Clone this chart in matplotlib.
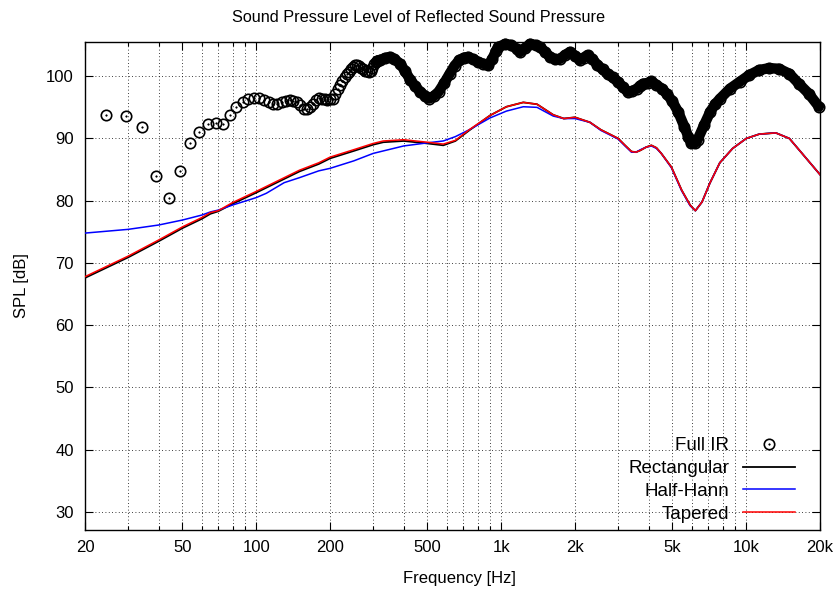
import numpy as np
import matplotlib
matplotlib.use("Agg")
import matplotlib.pyplot as plt
from matplotlib.ticker import FixedLocator, NullFormatter

# ================= DATA =================
# Full IR, low-frequency FFT bins (individual circles)
ir_freq_sparse = [24.4, 29.3, 34.2, 39.1, 43.9, 48.8, 53.7, 58.6, 63.5, 68.4,
                  73.2, 78.1, 83.0, 87.9, 92.8, 97.7, 102.5, 107.4, 112.3, 117.2,
                  122.1, 127.0, 131.8, 136.7, 141.6, 146.5, 151.4, 156.3, 161.1, 166.0,
                  170.9, 175.8, 180.7, 185.5, 190.4, 195.3, 200.2, 205.1, 210.0, 214.8,
                  219.7, 224.6, 229.5, 234.4, 239.3, 244.1, 249.0, 253.9, 258.8, 263.7,
                  268.6, 273.4, 278.3, 283.2, 288.1, 293.0, 297.9, 302.7, 307.6, 312.5]
ir_spl_sparse = [93.8, 93.6, 91.8, 84.0, 80.5, 84.7, 89.2, 91.1, 92.3, 92.5,
                 92.3, 93.7, 95.0, 95.8, 96.3, 96.5, 96.5, 96.2, 95.9, 95.6,
                 95.5, 95.9, 96.1, 96.2, 96.0, 95.9, 95.3, 94.8, 94.8, 95.1,
                 95.5, 96.2, 96.5, 96.4, 96.3, 96.2, 96.3, 96.4, 97.2, 97.9,
                 98.6, 99.3, 99.9, 100.3, 100.7, 101.1, 101.5, 101.8, 101.8, 101.6,
                 101.3, 101.1, 100.9, 100.8, 100.7, 100.8, 101.4, 102.0, 102.3, 102.5]

# Full IR, dense part (circles merge into a band)
ir_freq_dense = [312.5, 320, 335, 350, 365, 387, 405, 426, 445, 467, 490, 508, 530, 555,
                 585, 616, 645, 675, 705, 733, 770, 804, 845, 887, 920, 950, 974,
                 1040, 1095, 1158, 1195, 1250, 1310, 1380, 1440, 1510, 1582, 1660,
                 1740, 1820, 1908, 2000, 2090, 2170, 2250, 2350, 2470, 2590, 2715,
                 2850, 2990, 3130, 3280, 3420, 3580, 3690, 3790, 3960, 4100, 4300,
                 4530, 4750, 4970, 5270, 5590, 5800, 5950, 6150, 6330, 6720, 7130,
                 7460, 7820, 8580, 9400, 10300, 11300, 12400, 13600, 15000, 16400,
                 18000, 19800]
ir_spl_dense = [102.5, 102.6, 102.9, 103.1, 102.8, 102.0, 100.8, 99.4, 98.4, 97.5, 96.8,
                96.4, 96.8, 97.5, 98.9, 100.4, 101.7, 102.6, 103.0, 103.1, 102.7,
                102.3, 102.0, 101.8, 102.8, 104.0, 104.7, 105.2, 105.0, 104.4, 103.9,
                104.5, 105.2, 105.0, 104.7, 103.9, 103.1, 102.7, 102.8, 103.4, 103.9,
                103.3, 102.6, 103.0, 103.4, 102.8, 101.8, 101.1, 100.4, 99.8, 99.1,
                98.3, 97.5, 97.6, 98.0, 98.5, 98.8, 98.9, 99.2, 98.6, 98.0, 97.1,
                96.1, 94.3, 91.9, 90.3, 89.3, 89.2, 89.8, 92.1, 94.3, 95.5, 96.4,
                98.0, 99.1, 100.2, 101.0, 101.3, 101.2, 100.4, 98.8, 97.2, 95.1]

# windowed responses
line_freq = [20, 30, 40, 50, 60, 65, 70, 80, 100, 110, 130, 150, 180, 200, 250, 300,
             330, 400, 500, 580, 650, 740, 900, 1050, 1230, 1400, 1630, 1800, 2000,
             2300, 2550, 2800, 3000, 3200, 3400, 3550, 3700, 3900, 4100, 4300, 4500,
             4950, 5450, 5900, 6200, 6600, 7100, 7800, 8800, 10000, 11300, 13200,
             15000, 16900, 20000]
spl_rect = [67.6, 70.9, 73.5, 75.6, 77.1, 77.9, 78.3, 79.5, 81.3, 82.1, 83.5, 84.7,
            85.9, 86.8, 88.0, 89.0, 89.4, 89.6, 89.2, 88.9, 89.6, 91.3, 93.7, 95.1,
            95.8, 95.5, 93.8, 93.2, 93.4, 92.6, 91.4, 90.6, 90.0, 88.9, 87.9, 87.8,
            88.1, 88.6, 88.9, 88.5, 87.6, 85.4, 81.7, 79.3, 78.4, 79.8, 82.8, 86.1,
            88.4, 90.0, 90.7, 90.9, 90.0, 87.6, 84.2]
spl_hann = [74.8, 75.4, 76.1, 76.9, 77.7, 78.2, 78.5, 79.3, 80.5, 81.2, 82.9, 83.7,
            84.8, 85.2, 86.4, 87.6, 88.0, 88.8, 89.3, 89.6, 90.3, 91.4, 93.3, 94.4,
            95.1, 95.0, 93.6, 93.2, 93.2, 92.6, 91.3, 90.5, 89.9, 88.8, 87.8, 87.8,
            88.2, 88.6, 88.8, 88.4, 87.6, 85.3, 81.6, 79.2, 78.4, 79.8, 82.8, 86.1,
            88.4, 90.0, 90.7, 90.9, 90.0, 87.6, 84.2]
spl_taper = [67.8, 71.1, 73.7, 75.8, 77.3, 78.1, 78.4, 79.7, 81.5, 82.3, 83.7, 84.9,
             86.1, 87.0, 88.2, 89.2, 89.6, 89.8, 89.4, 89.1, 89.7, 91.4, 93.7, 95.1,
             95.8, 95.5, 93.8, 93.2, 93.4, 92.6, 91.4, 90.6, 90.0, 88.9, 87.9, 87.8,
             88.1, 88.6, 88.9, 88.5, 87.6, 85.4, 81.7, 79.3, 78.4, 79.8, 82.8, 86.1,
             88.4, 90.0, 90.7, 90.9, 90.0, 87.6, 84.2]

major_ticks = [20, 50, 100, 200, 500, 1000, 2000, 5000, 10000, 20000]
major_labels = ['20', '50', '100', '200', '500', '1k', '2k', '5k', '10k', '20k']
minor_ticks = [30, 40, 60, 70, 80, 90, 300, 400, 600, 700, 800, 900,
               3000, 4000, 6000, 7000, 8000, 9000]
y_ticks = [30, 40, 50, 60, 70, 80, 90, 100]
# ========================================

plt.rcParams['font.family'] = ['Liberation Sans', 'DejaVu Sans']
plt.rcParams['font.size'] = 12

fig = plt.figure(figsize=(8.38, 5.90), dpi=100)
ax = fig.add_axes([85 / 838, 1 - 530 / 590, 735 / 838, 488 / 590])

# Full IR: open circles with a dot in the middle
ax.plot(ir_freq_dense, ir_spl_dense, color='black', lw=7.5,
        solid_capstyle='round', solid_joinstyle='round', zorder=2, clip_on=False)
circ, = ax.plot(ir_freq_sparse + ir_freq_dense, ir_spl_sparse + ir_spl_dense,
                ls='none', marker='o', ms=7.5, mfc='none', mec='black', mew=1.2,
                zorder=3, clip_on=False)
dot, = ax.plot(ir_freq_sparse, ir_spl_sparse, ls='none', marker='o', ms=1.2,
               mfc='black', mec='black', mew=0.3, zorder=3)

l_rect, = ax.plot(line_freq, spl_rect, color='black', lw=1.3, zorder=4)
l_hann, = ax.plot(line_freq, spl_hann, color='#0000ff', lw=1.1, zorder=5)
l_taper, = ax.plot(line_freq, spl_taper, color='#ff0000', lw=1.1, zorder=6)

ax.set_xscale('log')
ax.set_xlim(20, 20000)
ax.set_ylim(27.1, 105.5)

ax.xaxis.set_major_locator(FixedLocator(major_ticks))
ax.set_xticklabels(major_labels)
ax.xaxis.set_minor_locator(FixedLocator(minor_ticks))
ax.xaxis.set_minor_formatter(NullFormatter())
ax.set_yticks(y_ticks)

ax.tick_params(which='both', direction='in', top=True, right=True, labelsize=12)
ax.tick_params(which='major', length=6, width=0.8)
ax.tick_params(which='minor', length=3, width=0.8)
ax.tick_params(axis='x', pad=7)
ax.tick_params(axis='y', pad=8)

ax.grid(which='both', axis='x', color='black', lw=0.6, ls=(0, (1, 3)))
ax.grid(which='major', axis='y', color='black', lw=0.6, ls=(0, (1, 3)))
ax.set_axisbelow(True)
for s in ax.spines.values():
    s.set_linewidth(1.0)

ax.set_xlabel('Frequency [Hz]', fontsize=12, labelpad=6)
ax.xaxis.set_label_coords(0.51, -0.085)
ax.set_ylabel('SPL [dB]', fontsize=12, labelpad=12)
fig.text(0.5, 1 - 17 / 590, 'Sound Pressure Level of Reflected Sound Pressure',
         ha='center', va='center', fontsize=11.7)

ax.legend([(circ, dot), l_rect, l_hann, l_taper],
          ['Full IR', 'Rectangular', 'Half-Hann', 'Tapered'],
          loc='lower right', bbox_to_anchor=(0.984, -0.012), frameon=False,
          markerfirst=False, handlelength=2.8, labelspacing=0.3,
          handletextpad=0.7, borderaxespad=0.3, fontsize=13.5)

fig.savefig('out.png', dpi=100)
